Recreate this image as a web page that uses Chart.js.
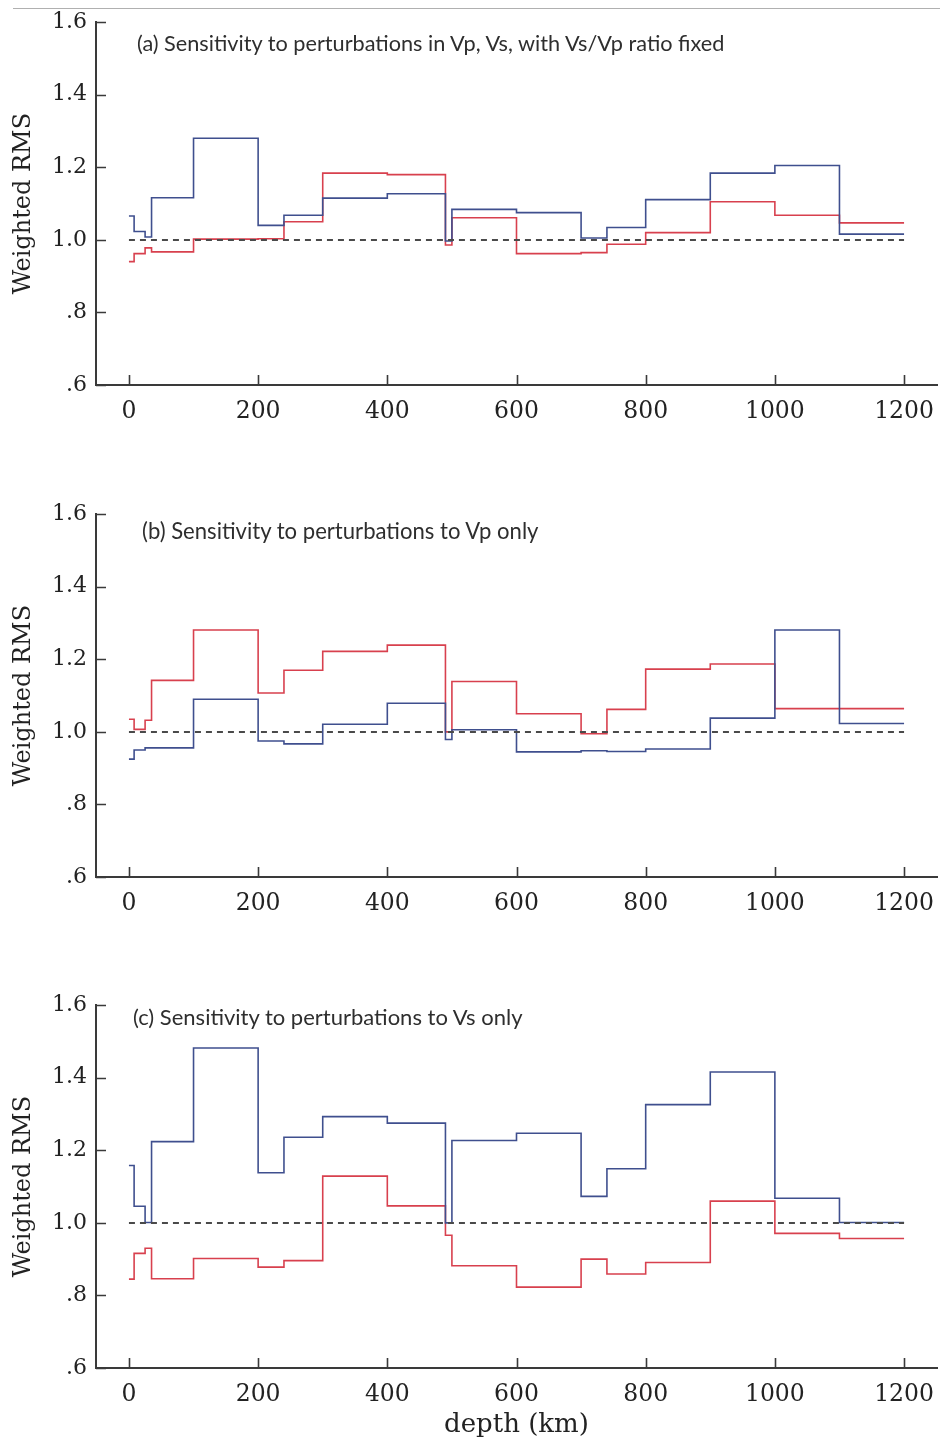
<!DOCTYPE html>
<html><head><meta charset="utf-8">
<script src="https://cdn.jsdelivr.net/npm/chart.js@4"></script>
<style>
html,body{margin:0;padding:0;background:#fff;width:940px;height:1441px;overflow:hidden;position:relative;}
.panel{position:absolute;left:0;width:940px;height:458px;}
.ttl{position:absolute;font-family:Lato,"Open Sans",sans-serif;color:#2e2e2e;white-space:nowrap;line-height:1;}
#edge{position:absolute;left:13px;top:8px;width:927px;height:0;border-top:1.5px solid #b0b0b0;}
</style></head><body>
<div id="edge"></div>
<div class="panel" style="top:0"><canvas id="ca"></canvas></div>
<div class="panel" style="top:492px"><canvas id="cb"></canvas></div>
<div class="panel" style="top:983px"><canvas id="cc"></canvas></div>
<div class="ttl" id="ta" style="left:137px;top:33px">(a) Sensitivity to perturbations in Vp, Vs, with Vs/Vp ratio fixed</div>
<div class="ttl" id="tb" style="left:142px;top:520px">(b) Sensitivity to perturbations to Vp only</div>
<div class="ttl" id="tc" style="left:133px;top:1006px">(c) Sensitivity to perturbations to Vs only</div>
<script>
// ---- data ----
const depthEdges = [0, 8, 25, 35, 100, 200, 240, 300, 400, 490, 500, 600, 700, 740, 800, 900, 1000, 1100];
const depthEnd = 1200;
const aBlue = [1.066, 1.023, 1.008, 1.116, 1.280, 1.040, 1.068, 1.115, 1.127, 0.997, 1.084, 1.075, 1.005, 1.034, 1.111, 1.184, 1.205, 1.016];
const aRed  = [0.940, 0.962, 0.978, 0.967, 1.002, 1.003, 1.050, 1.184, 1.180, 0.986, 1.061, 0.962, 0.965, 0.988, 1.020, 1.105, 1.068, 1.047];
const bBlue = [0.925, 0.950, 0.956, 0.956, 1.090, 0.975, 0.967, 1.021, 1.079, 0.979, 1.006, 0.945, 0.948, 0.946, 0.953, 1.038, 1.281, 1.023];
const bRed  = [1.035, 1.007, 1.032, 1.142, 1.281, 1.107, 1.170, 1.222, 1.239, 1.000, 1.139, 1.050, 0.995, 1.062, 1.173, 1.187, 1.064, 1.064];
const cBlue = [1.158, 1.046, 1.001, 1.224, 1.482, 1.138, 1.236, 1.293, 1.275, 1.000, 1.227, 1.247, 1.073, 1.149, 1.326, 1.416, 1.068, 1.001];
const cRed  = [0.845, 0.916, 0.930, 0.846, 0.902, 0.878, 0.896, 1.129, 1.047, 0.966, 0.882, 0.823, 0.900, 0.859, 0.891, 1.060, 0.971, 0.957];
const referenceLevel = 1.0;
const xTicks = [0, 200, 400, 600, 800, 1000, 1200];
const xTickLabels = ['0', '200', '400', '600', '800', '1000', '1200'];
const yTicks = [0.6, 0.8, 1.0, 1.2, 1.4, 1.6];
const yTickLabels = ['.6', '.8', '1.0', '1.2', '1.4', '1.6'];
const yAxisTitle = 'Weighted RMS';
const xAxisTitle = 'depth (km)';

// ---- styling ----
const BLUE = '#3f4f8e', RED = '#d8404e', AXIS = '#3a3a3a', TXT = '#222';
const SERIF = '"DejaVu Serif", serif';

function steps(vals){
  const pts = depthEdges.map((d,i)=>({x:d, y:vals[i]}));
  pts.push({x:depthEnd, y:vals[vals.length-1]});
  return pts;
}
function labelFor(ticks, labels, v){
  const i = ticks.findIndex(t=>Math.abs(t-v)<1e-6);
  return i>=0 ? labels[i] : '';
}

const inwardTicks = {
  id:'inwardTicks',
  afterDraw(chart){
    const {ctx, chartArea:a, scales:{x, y}} = chart;
    ctx.save();
    ctx.strokeStyle = AXIS; ctx.lineWidth = 1.6;
    ctx.beginPath();
    yTicks.forEach(v=>{ const py = Math.round(y.getPixelForValue(v))+0.5; ctx.moveTo(a.left, py); ctx.lineTo(a.left+10, py); });
    xTicks.forEach(v=>{ const px = Math.round(x.getPixelForValue(v))+0.5; ctx.moveTo(px, a.bottom); ctx.lineTo(px, a.bottom-10); });
    ctx.stroke();
    ctx.restore();
  }
};

function makeChart(id, blue, red, showX){
  return new Chart(document.getElementById(id), {
    type:'line',
    data:{datasets:[
      {data:[{x:0,y:referenceLevel},{x:depthEnd,y:referenceLevel}], borderColor:'#4a4a4a', borderWidth:2, borderDash:[6,5], pointRadius:0, order:0},
      {data:steps(blue), borderColor:BLUE, borderWidth:1.6, stepped:'before', pointRadius:0, order:1},
      {data:steps(red), borderColor:RED, borderWidth:1.6, stepped:'before', pointRadius:0, order:2}
    ]},
    options:{
      responsive:true, maintainAspectRatio:false, animation:false,
      layout:{padding:{top:19, right:3, left:0, bottom:0}},
      plugins:{legend:{display:false}, tooltip:{enabled:false}},
      scales:{
        x:{type:'linear', min:-51, max:1251,
          afterBuildTicks(s){ s.ticks = xTicks.map(v=>({value:v})); },
          afterFit(s){ s.height = 73; s.paddingLeft = 0; s.paddingRight = 0; },
          grid:{display:false, drawTicks:false},
          border:{display:true, color:AXIS, width:2},
          ticks:{padding:13, color:TXT, font:{family:SERIF, size:23.5}, maxRotation:0, autoSkip:false,
            callback:(v)=>labelFor(xTicks, xTickLabels, v)},
          title:{display:showX, text:xAxisTitle, color:TXT, font:{family:SERIF, size:26}, padding:{top:0,bottom:0}}
        },
        y:{type:'linear', min:0.6, max:1.6,
          afterBuildTicks(s){ s.ticks = yTicks.map(v=>({value:v})); },
          afterFit(s){ s.width = 96; },
          grid:{display:false, drawTicks:false},
          border:{display:true, color:AXIS, width:2},
          ticks:{padding:9, color:TXT, font:{family:SERIF, size:22},
            callback:(v)=>labelFor(yTicks, yTickLabels, v)},
          title:{display:true, text:yAxisTitle, color:TXT, font:{family:SERIF, size:24}, padding:{top:9,bottom:0}}
        }
      }
    },
    plugins:[inwardTicks]
  });
}

makeChart('ca', aBlue, aRed, false);
makeChart('cb', bBlue, bRed, false);
makeChart('cc', cBlue, cRed, true);

// fit panel titles to their widths in the figure
const mc = document.createElement('canvas').getContext('2d');
[['ta',591],['tb',398],['tc',391]].forEach(([id,w])=>{
  const el = document.getElementById(id);
  mc.font = '100px Lato';
  const m = mc.measureText(el.textContent).width;
  el.style.fontSize = (100*w/m).toFixed(2)+'px';
});
</script>
</body></html>
